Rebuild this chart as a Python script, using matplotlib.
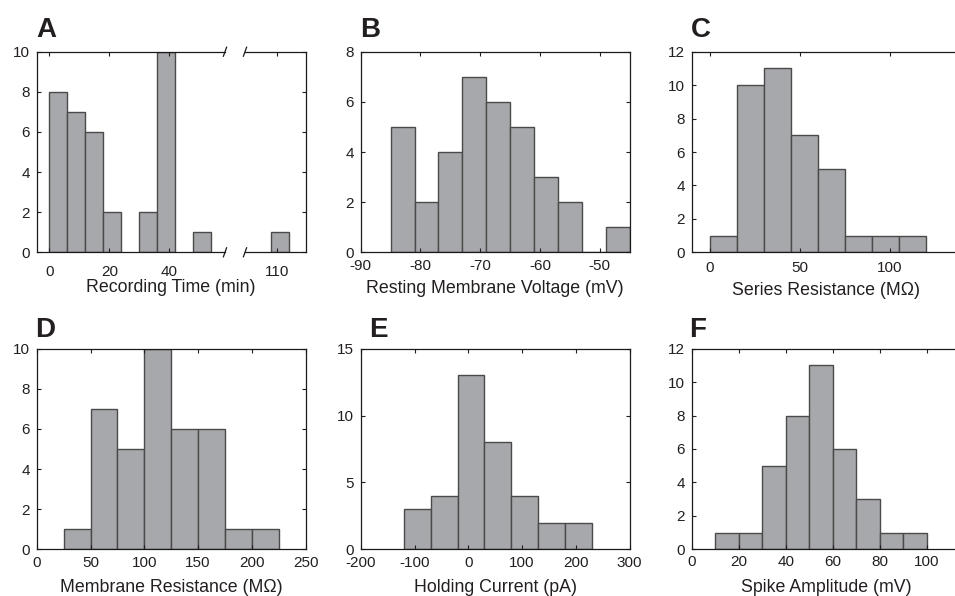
import numpy as np
import matplotlib
matplotlib.use("Agg")
from matplotlib import pyplot as plt

plt.rcParams['font.family'] = ['Liberation Sans', 'DejaVu Sans']
plt.rcParams['axes.unicode_minus'] = False

# histogram data (bin left edges, counts, bin width)
a_lefts = [0, 6, 12, 18, 30, 36, 48]
a_counts = [8, 7, 6, 2, 2, 10, 1]
a_far_lefts = [108]
a_far_counts = [1]
a_width = 6

b_edges = [-85, -81, -77, -73, -69, -65, -61, -57, -53, -49, -45]
b_counts = [5, 2, 4, 7, 6, 5, 3, 2, 0, 1]

c_edges = [0, 15, 30, 45, 60, 75, 90, 105, 120]
c_counts = [1, 10, 11, 7, 5, 1, 1, 1]

d_edges = [25, 50, 75, 100, 125, 150, 175, 200, 225]
d_counts = [1, 7, 5, 10, 6, 6, 1, 1]

e_edges = [-120, -70, -20, 30, 80, 130, 180, 230]
e_counts = [3, 4, 13, 8, 4, 2, 2]

f_edges = [10, 20, 30, 40, 50, 60, 70, 80, 90, 100]
f_counts = [1, 1, 5, 8, 11, 6, 3, 1, 1]

FILL = '#a7a8ab'
EDGE = '#4a4a4a'
TXT = '#231f20'
W, H = 955.0, 596.0

fig = plt.figure(figsize=(W/100, H/100), dpi=100)

def px_axes(x0, top, x1, bottom):
	return fig.add_axes([x0/W, 1 - bottom/H, (x1 - x0)/W, (bottom - top)/H])

def style(ax, xpad, left=True, right=True):
	ax.tick_params(direction='in', length=3, width=0.8, labelsize=11,
		colors=TXT, top=True, bottom=True, left=left, right=right)
	ax.tick_params(axis='x', pad=xpad)
	ax.tick_params(axis='y', pad=5)
	for s in ax.spines.values():
		s.set_linewidth(0.9)
		s.set_color('#1a1a1a')

def hist(ax, edges, counts):
	edges = np.asarray(edges, float)
	ax.bar(edges[:-1], counts, width=np.diff(edges), align='edge',
		color=FILL, edgecolor=EDGE, linewidth=1.0)

def xlabel(ax, text, top_px, x=0.5):
	ax.set_xlabel(text, fontsize=12.8, color=TXT, va='top')
	bb = ax.get_position()
	ax.xaxis.set_label_coords(x, -(top_px - (1 - bb.y0) * H) / (bb.height * H))

cols = [36.7, 360.7, 691.7]
cw = 269.0
rows = [(51.7, 252.3), (348.7, 549.3)]

# ---- A: broken axis
t, b = rows[0]
axA1 = px_axes(cols[0], t, 225.0, b)
axA2 = px_axes(245.0, t, cols[0] + cw, b)
axA1.bar(a_lefts, a_counts, width=a_width, align='edge', color=FILL, edgecolor=EDGE, linewidth=1.0)
axA2.bar(a_far_lefts, a_far_counts, width=a_width, align='edge', color=FILL, edgecolor=EDGE, linewidth=1.0)
axA1.set_xlim(-4.2, 58.6)
axA2.set_xlim(99.4, 119.7)
for ax in (axA1, axA2):
	ax.set_ylim(0, 10)
	ax.set_yticks([0, 2, 4, 6, 8, 10])
axA1.set_xticks([0, 20, 40])
axA2.set_xticks([110])
style(axA1, 9, left=True, right=False)
style(axA2, 9, left=False, right=True)
axA1.spines['right'].set_visible(False)
axA2.spines['left'].set_visible(False)
axA2.tick_params(labelleft=False)
# break marks, about 3 px wide and 9 px tall
for ax, xs in ((axA1, 1.0), (axA2, 0.0)):
	wpx = ax.get_position().width * W
	hpx = ax.get_position().height * H
	for ys in (0.0, 1.0):
		ax.plot([xs - 1.6 / wpx, xs + 1.6 / wpx], [ys - 4.5 / hpx, ys + 4.5 / hpx],
			transform=ax.transAxes, color='#1a1a1a', linewidth=0.9, clip_on=False)
xlabel(axA1, 'Recording Time (min)', 279.0, x=(171.2 - cols[0]) / (225.0 - cols[0]))

# ---- B
axB = px_axes(cols[1], t, cols[1] + cw, b)
hist(axB, b_edges, b_counts)
axB.set_xlim(-90, -45)
axB.set_ylim(0, 8)
axB.set_xticks([-90, -80, -70, -60, -50])
axB.set_yticks([0, 2, 4, 6, 8])
style(axB, 5)
xlabel(axB, 'Resting Membrane Voltage (mV)', 280.0)

# ---- C
axC = px_axes(cols[2], t, cols[2] + cw, b)
hist(axC, c_edges, c_counts)
axC.set_xlim(-10, 139.4)
axC.set_ylim(0, 12)
axC.set_xticks([0, 50, 100])
axC.set_yticks([0, 2, 4, 6, 8, 10, 12])
style(axC, 6)
xlabel(axC, 'Series Resistance (M\u03a9)', 282.0)

# ---- D
t, b = rows[1]
axD = px_axes(cols[0], t, cols[0] + cw, b)
hist(axD, d_edges, d_counts)
axD.set_xlim(0, 250)
axD.set_ylim(0, 10)
axD.set_xticks([0, 50, 100, 150, 200, 250])
axD.set_yticks([0, 2, 4, 6, 8, 10])
style(axD, 5)
xlabel(axD, 'Membrane Resistance (M\u03a9)', 578.5)

# ---- E
axE = px_axes(cols[1], t, cols[1] + cw, b)
hist(axE, e_edges, e_counts)
axE.set_xlim(-200, 300)
axE.set_ylim(0, 15)
axE.set_xticks([-200, -100, 0, 100, 200, 300])
axE.set_yticks([0, 5, 10, 15])
style(axE, 5)
xlabel(axE, 'Holding Current (pA)', 579.0)

# ---- F
axF = px_axes(cols[2], t, cols[2] + cw, b)
hist(axF, f_edges, f_counts)
axF.set_xlim(0, 114.5)
axF.set_ylim(0, 12)
axF.set_xticks([0, 20, 40, 60, 80, 100])
axF.set_yticks([0, 2, 4, 6, 8, 10, 12])
style(axF, 4)
xlabel(axF, 'Spike Amplitude (mV)', 578.5)

# panel letters
for lab, x, base in (('A', 36.0, 36.7), ('B', 360.5, 36.7), ('C', 690.5, 36.7),
		('D', 35.0, 336.7), ('E', 369.5, 336.7), ('F', 689.5, 336.7)):
	fig.text(x / W, 1 - base / H, lab, fontsize=20, fontweight='bold',
		color=TXT, va='baseline', ha='left')

fig.savefig('out.png', dpi=100)
